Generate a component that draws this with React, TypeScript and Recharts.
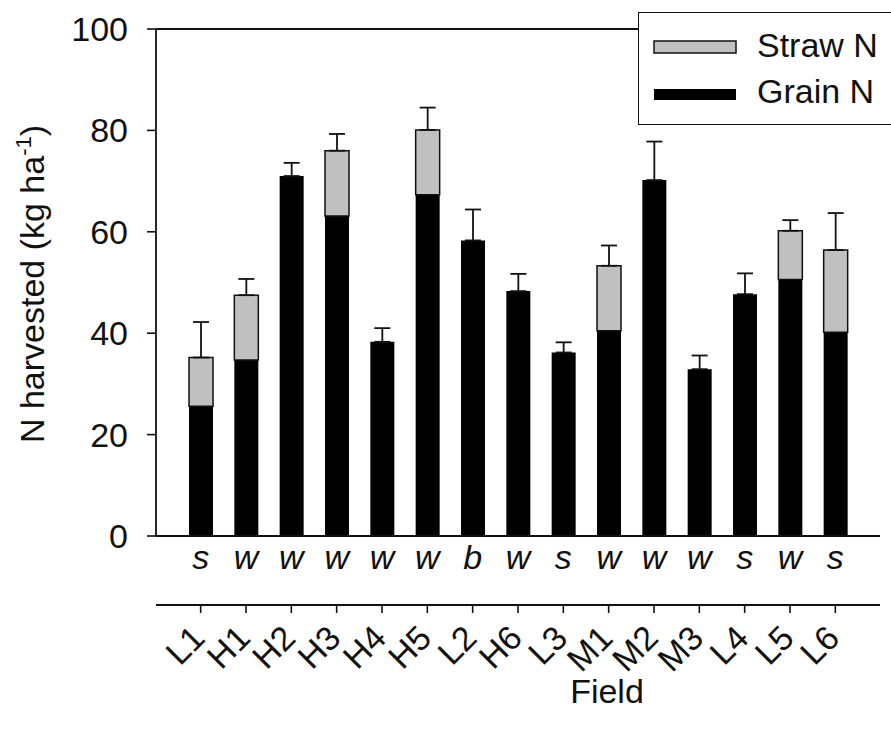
import { ComposedChart, Bar, ErrorBar, XAxis, YAxis, ReferenceLine, Legend, Label } from 'recharts';

const fields = ['L1', 'H1', 'H2', 'H3', 'H4', 'H5', 'L2', 'H6', 'L3', 'M1', 'M2', 'M3', 'L4', 'L5', 'L6'];
const crops = ['s', 'w', 'w', 'w', 'w', 'w', 'b', 'w', 's', 'w', 'w', 'w', 's', 'w', 's'];
const grainN = [25.6, 34.7, 71.0, 63.1, 38.3, 67.3, 58.3, 48.3, 36.2, 40.5, 70.2, 32.9, 47.7, 50.6, 40.2];
const strawN = [9.6, 12.8, 0, 12.9, 0, 12.8, 0, 0, 0, 12.8, 0, 0, 0, 9.6, 16.2];
const totalSE = [7.0, 3.2, 2.6, 3.3, 2.7, 4.4, 6.1, 3.4, 2.0, 4.0, 7.6, 2.7, 4.1, 2.1, 7.3];
const yTicks = [0, 20, 40, 60, 80, 100];

const FONT = '"Liberation Sans", Arial, Helvetica, sans-serif';
const FS = 34;
const INK = '#111';
const STRAW = '#c0c0c0';

// upper whisker only; it hangs off whichever segment is on top of the stack
const data = fields.map((f, i) => ({
  field: f,
  grain: grainN[i],
  straw: strawN[i],
  seGrain: strawN[i] > 0 ? undefined : [0, totalSE[i]],
  seStraw: strawN[i] > 0 ? [0, totalSE[i]] : undefined,
}));

function CropTick({ x, y, index }: any) {
  return (
    <text x={x} y={y + 33} textAnchor="middle" fontSize={FS} fontStyle="italic" fontFamily={FONT} fill={INK}>
      {crops[index]}
    </text>
  );
}

function FieldTick({ x, y, payload }: any) {
  const ax = x + 6;
  const ay = y + 27;
  return (
    <text x={ax} y={ay} textAnchor="end" fontSize={FS} fontFamily={FONT} fill={INK} transform={`rotate(-45, ${ax}, ${ay})`}>
      {payload.value}
    </text>
  );
}

function YTitle() {
  return (
    <text x={44} y={284} transform="rotate(-90, 44, 284)" textAnchor="middle" fontSize={FS} fontFamily={FONT} fill={INK}>
      N harvested (kg ha
      <tspan fontSize={22} dy={-13}>-1</tspan>
      <tspan dy={13}>)</tspan>
    </text>
  );
}

function XTitle() {
  return (
    <text x={607} y={703} textAnchor="middle" fontSize={FS} fontFamily={FONT} fill={INK}>
      Field
    </text>
  );
}

function LegendBox() {
  return (
    <div style={{ width: 300, height: 113, border: `1.5px solid ${INK}`, background: '#fff', boxSizing: 'border-box' }}>
      <svg width={300} height={110}>
        <rect x={15} y={28} width={82} height={12} fill={STRAW} stroke={INK} strokeWidth={1.5} />
        <text x={118} y={44} fontSize={FS} fontFamily={FONT} fill={INK}>Straw N</text>
        <rect x={15} y={76} width={82} height={11} fill="#000" />
        <text x={118} y={90} fontSize={FS} fontFamily={FONT} fill={INK}>Grain N</text>
      </svg>
    </div>
  );
}

export default function App() {
  return (
    <div style={{ position: 'fixed', left: 0, top: 0, width: 891, height: 740, overflow: 'hidden', background: '#fff' }}>
      <ComposedChart width={891} height={740} data={data} margin={{ top: 29, right: 11, left: 0, bottom: 0 }}>
        <XAxis
          xAxisId="crop"
          dataKey="field"
          height={69}
          padding={{ left: 22, right: 22 }}
          axisLine={{ stroke: INK, strokeWidth: 1.8 }}
          tickLine={false}
          tickSize={0}
          tickMargin={0}
          tick={<CropTick />}
          interval={0}
        />
        <XAxis
          xAxisId="field"
          dataKey="field"
          height={135}
          padding={{ left: 22, right: 22 }}
          axisLine={{ stroke: INK, strokeWidth: 1.8 }}
          tickLine={{ stroke: INK, strokeWidth: 1.6 }}
          tickSize={8}
          tickMargin={0}
          tick={<FieldTick />}
          interval={0}
        >
          <Label content={<XTitle />} />
        </XAxis>
        <YAxis
          yAxisId="left"
          width={156}
          domain={[0, 100]}
          ticks={yTicks}
          allowDataOverflow
          axisLine={{ stroke: INK, strokeWidth: 1.8 }}
          tickLine={{ stroke: INK, strokeWidth: 1.6 }}
          tickSize={9}
          tickMargin={19}
          tick={{ fontSize: FS, fontFamily: FONT, fill: INK }}
        >
          <Label content={<YTitle />} />
        </YAxis>
        <YAxis
          yAxisId="right"
          orientation="right"
          width={0}
          domain={[0, 100]}
          axisLine={{ stroke: INK, strokeWidth: 1.8 }}
          tick={false}
          tickLine={false}
        />
        <ReferenceLine yAxisId="left" xAxisId="field" y={100} stroke={INK} strokeWidth={1.8} />
        <Bar xAxisId="field" yAxisId="left" dataKey="grain" name="Grain N" stackId="n" fill="#000" barSize={24} isAnimationActive={false}>
          <ErrorBar dataKey="seGrain" width={8} stroke={INK} strokeWidth={1.8} direction="y" isAnimationActive={false} />
        </Bar>
        <Bar xAxisId="field" yAxisId="left" dataKey="straw" name="Straw N" stackId="n" fill={STRAW} stroke={INK} strokeWidth={1.5} barSize={24} isAnimationActive={false}>
          <ErrorBar dataKey="seStraw" width={8} stroke={INK} strokeWidth={1.8} direction="y" isAnimationActive={false} />
        </Bar>
        <Legend
          layout="horizontal"
          verticalAlign="middle"
          align="center"
          content={<LegendBox />}
          wrapperStyle={{ position: 'absolute', left: 638, top: 12, width: 300, height: 113 }}
        />
      </ComposedChart>
    </div>
  );
}
